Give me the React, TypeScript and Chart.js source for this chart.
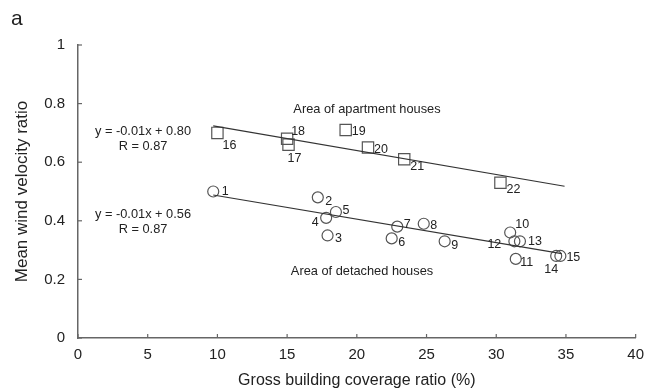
import React, { useEffect, useRef } from "react";
import { Chart, registerables } from "chart.js";

Chart.register(...registerables);

// Detached houses (points 1..15)
const detachedIds = ["1", "2", "3", "4", "5", "6", "7", "8", "9", "10", "11", "12", "13", "14", "15"];
const detachedX = [9.7, 17.2, 17.9, 17.8, 18.5, 22.5, 22.9, 24.8, 26.3, 31.0, 31.4, 31.3, 31.7, 34.3, 34.6];
const detachedY = [0.50, 0.48, 0.35, 0.41, 0.43, 0.34, 0.38, 0.39, 0.33, 0.36, 0.27, 0.33, 0.33, 0.28, 0.28];

// Apartment houses (points 16..22)
const apartmentIds = ["16", "17", "18", "19", "20", "21", "22"];
const apartmentX = [10.0, 15.1, 15.0, 19.2, 20.8, 23.4, 30.3];
const apartmentY = [0.70, 0.66, 0.68, 0.71, 0.65, 0.61, 0.53];

// Regression lines as drawn (endpoints)
const apartmentFitX = [9.7, 34.9];
const apartmentFitY = [0.724, 0.518];
const detachedFitX = [9.7, 34.7];
const detachedFitY = [0.488, 0.288];

const xTicks = [0, 5, 10, 15, 20, 25, 30, 35, 40];
const yTicks = [0, 0.2, 0.4, 0.6, 0.8, 1];

// label offsets (px) for the point numbers
const detachedLabelOffsets = [
  [12, 0], [11, 4], [11, 3], [-11, 5], [10, -1], [10, 4], [10, -2], [10, 2],
  [10, 4], [12, -8], [11, 4], [-20, 3], [15, 0], [-5, 14], [13, 2],
];
const apartmentLabelOffsets = [
  [12, 13], [6, 14], [11, -7], [13, 2], [13, 2], [13, 7], [13, 7],
];

const FONT = "'Liberation Sans', Arial, sans-serif";
const TEXT = "#222";

const toXY = (xs: number[], ys: number[]) => xs.map((x, i) => ({ x, y: ys[i] }));

export default function App() {
  const ref = useRef<HTMLCanvasElement | null>(null);

  useEffect(() => {
    if (!ref.current) return;

    const decorPlugin = {
      id: "decor",
      afterDraw(chart: any) {
        const ctx = chart.ctx as CanvasRenderingContext2D;
        const xs = chart.scales.x;
        const ys = chart.scales.y;
        const area = chart.chartArea;
        ctx.save();
        // inward ticks
        ctx.strokeStyle = "#666";
        ctx.lineWidth = 1.2;
        xTicks.forEach((v) => {
          const px = xs.getPixelForValue(v);
          ctx.beginPath();
          ctx.moveTo(px, area.bottom);
          ctx.lineTo(px, area.bottom - 4);
          ctx.stroke();
        });
        yTicks.forEach((v) => {
          const py = ys.getPixelForValue(v);
          ctx.beginPath();
          ctx.moveTo(area.left, py);
          ctx.lineTo(area.left + 4, py);
          ctx.stroke();
        });

        // point labels
        ctx.fillStyle = TEXT;
        ctx.font = `12.5px ${FONT}`;
        ctx.textAlign = "center";
        ctx.textBaseline = "middle";
        detachedIds.forEach((id, i) => {
          const px = xs.getPixelForValue(detachedX[i]);
          const py = ys.getPixelForValue(detachedY[i]);
          const [dx, dy] = detachedLabelOffsets[i];
          ctx.fillText(id, px + dx, py + dy);
        });
        apartmentIds.forEach((id, i) => {
          const px = xs.getPixelForValue(apartmentX[i]);
          const py = ys.getPixelForValue(apartmentY[i]);
          const [dx, dy] = apartmentLabelOffsets[i];
          ctx.fillText(id, px + dx, py + dy);
        });

        // annotations
        ctx.font = `12.8px ${FONT}`;
        ctx.fillText("Area of apartment houses", 367, 109);
        ctx.fillText("Area of detached houses", 362, 271);
        ctx.fillText("y = -0.01x + 0.80", 143, 131);
        ctx.fillText("R = 0.87", 143, 146);
        ctx.fillText("y = -0.01x + 0.56", 143, 214);
        ctx.fillText("R = 0.87", 143, 229);

        // axis titles
        ctx.font = `16px ${FONT}`;
        ctx.fillText("Gross building coverage ratio (%)", (area.left + area.right) / 2, 381);
        ctx.save();
        ctx.translate(22, (area.top + area.bottom) / 2);
        ctx.rotate(-Math.PI / 2);
        ctx.font = `17px ${FONT}`;
        ctx.fillText("Mean wind velocity ratio", 0, 0);
        ctx.restore();

        // panel letter
        ctx.font = `21px ${FONT}`;
        ctx.textAlign = "left";
        ctx.fillText("a", 11, 19);
        ctx.restore();
      },
    };

    const chart = new Chart(ref.current, {
      type: "scatter",
      data: {
        datasets: [
          {
            label: "fitApartment",
            type: "line",
            data: toXY(apartmentFitX, apartmentFitY),
            borderColor: "#333",
            borderWidth: 1.2,
            pointRadius: 0,
            fill: false,
          } as any,
          {
            label: "fitDetached",
            type: "line",
            data: toXY(detachedFitX, detachedFitY),
            borderColor: "#333",
            borderWidth: 1.2,
            pointRadius: 0,
            fill: false,
          } as any,
          {
            label: "Detached",
            data: toXY(detachedX, detachedY),
            pointStyle: "circle",
            pointRadius: 5.5,
            borderColor: "#555",
            borderWidth: 1.2,
            backgroundColor: "rgba(255,255,255,0)",
          },
          {
            label: "Apartment",
            data: toXY(apartmentX, apartmentY),
            pointStyle: "rect",
            pointRadius: 8,
            borderColor: "#555",
            borderWidth: 1.2,
            backgroundColor: "rgba(255,255,255,0)",
          },
        ],
      },
      options: {
        animation: false,
        responsive: false,
        events: [],
        layout: { padding: { top: 45, right: 15, left: 0, bottom: 0 } },
        plugins: {
          legend: { display: false },
          tooltip: { enabled: false },
        },
        scales: {
          x: {
            type: "linear",
            min: 0,
            max: 40,
            grid: { display: false, drawTicks: false },
            border: { display: true, color: "#666", width: 1.5 },
            ticks: {
              stepSize: 5,
              padding: 8,
              color: TEXT,
              font: { size: 15, family: FONT },
              maxRotation: 0,
            },
            afterFit(scale: any) {
              scale.height = 53;
            },
          },
          y: {
            type: "linear",
            min: 0,
            max: 1,
            grid: { display: false, drawTicks: false },
            border: { display: true, color: "#666", width: 1.5 },
            ticks: {
              stepSize: 0.2,
              padding: 13,
              color: TEXT,
              font: { size: 15, family: FONT },
              callback: (v: any) => {
                const n = Math.round(Number(v) * 10) / 10;
                return String(n);
              },
            },
            afterFit(scale: any) {
              scale.width = 78;
            },
          },
        },
      },
      plugins: [decorPlugin],
    });

    return () => chart.destroy();
  }, []);

  return (
    <div style={{ position: "absolute", left: 0, top: 0, width: 652, height: 391, background: "#fff" }}>
      <canvas ref={ref} width={652} height={391} />
    </div>
  );
}
